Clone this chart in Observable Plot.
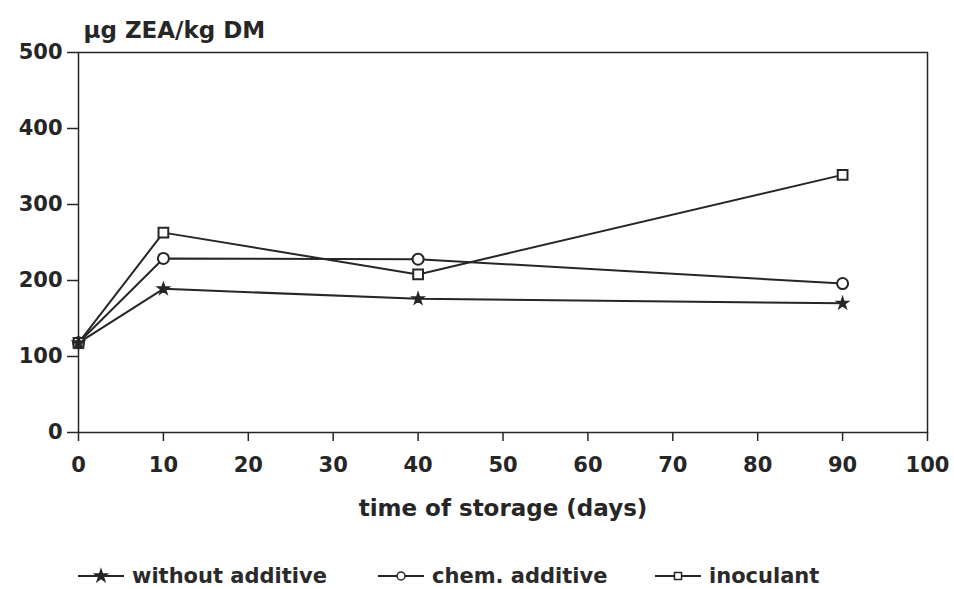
<!DOCTYPE html>
<html>
<head>
<meta charset="utf-8">
<script src="https://cdn.jsdelivr.net/npm/d3@7"></script>
<script src="https://cdn.jsdelivr.net/npm/@observablehq/plot@0.6"></script>
<style>
  html, body { margin: 0; padding: 0; background: #fff; overflow: hidden; }
  #chart { width: 954px; height: 535px; }
  #legend { position: relative; height: 50px; font-family: "DejaVu Sans", sans-serif; font-weight: bold; font-size: 21px; line-height: 24px; color: #2a2a2a; }
  .item { position: absolute; top: 29px; display: flex; align-items: center; }
  .item svg { margin-right: 8px; }
</style>
</head>
<body>
<div id="chart"></div>
<div id="legend"></div>
<script>
const days = [0, 10, 40, 90];
const seriesNames = ["without additive", "chem. additive", "inoculant"];
const withoutAdditive = [118, 189, 176, 170];
const chemAdditive = [118, 229, 228, 196];
const inoculant = [118, 263, 208, 339];
const xTicks = [0, 10, 20, 30, 40, 50, 60, 70, 80, 90, 100];
const yTicks = [0, 100, 200, 300, 400, 500];
const yTitle = "µg ZEA/kg DM";
const xTitle = "time of storage (days)";

const ink = "#262626";
const valuesBySeries = [withoutAdditive, chemAdditive, inoculant];
const data = [];
seriesNames.forEach((s, i) => days.forEach((d, j) => data.push({series: s, day: d, value: valuesBySeries[i][j]})));
const symbols = ["star", "circle", "square"];
const fills = {"without additive": ink, "chem. additive": "white", "inoculant": "white"};

const chart = Plot.plot({
  width: 954,
  height: 535,
  marginLeft: 78,
  marginRight: 27,
  marginTop: 52,
  marginBottom: 103,
  style: {fontFamily: "DejaVu Sans, sans-serif", fontWeight: "bold", color: ink, background: "white"},
  x: {domain: [0, 100]},
  y: {domain: [0, 500]},
  symbol: {domain: seriesNames, range: symbols},
  marks: [
    Plot.frame({stroke: ink, strokeWidth: 1.5}),
    Plot.axisX({ticks: xTicks, tickSize: 9, tickPadding: 16, fontSize: 21, fontWeight: "bold", label: null, stroke: ink, strokeWidth: 1.5}),
    Plot.axisY({ticks: yTicks, tickSize: 11, tickPadding: 5, fontSize: 21, fontWeight: "bold", label: null, stroke: ink, strokeWidth: 1.5}),
    Plot.text([yTitle], {frameAnchor: "top-left", dx: 5, dy: -22, lineAnchor: "middle", textAnchor: "start", fontSize: 23, fontWeight: "bold", fill: ink}),
    Plot.text([xTitle], {frameAnchor: "bottom", dy: 76, lineAnchor: "middle", fontSize: 23, fontWeight: "bold", fill: ink}),
    Plot.line(data, {x: "day", y: "value", z: "series", stroke: ink, strokeWidth: 2}),
    Plot.dot(data, {filter: d => d.series !== "without additive", x: "day", y: "value", symbol: "series", r: 5.5, stroke: ink, strokeWidth: 2, fill: d => fills[d.series]}),
    Plot.dot(data, {filter: d => d.series === "without additive", x: "day", y: "value", symbol: "series", r: 3.6, stroke: ink, strokeWidth: 1.5, fill: d => fills[d.series]})
  ]
});
document.getElementById("chart").appendChild(chart);

// Legend built from the same series names and symbols
const legend = document.getElementById("legend");
const lefts = [78, 378, 655];
seriesNames.forEach((s, i) => {
  const item = document.createElement("div");
  item.className = "item";
  item.style.left = lefts[i] + "px";
  const svg = d3.create("svg").attr("width", 46).attr("height", 20);
  svg.append("line").attr("x1", 0).attr("x2", 46).attr("y1", 10).attr("y2", 10).attr("stroke", ink).attr("stroke-width", 2);
  const symType = [d3.symbolStar, d3.symbolCircle, d3.symbolSquare][i];
  svg.append("path").attr("transform", "translate(23,10)")
    .attr("d", d3.symbol(symType, i === 0 ? 45 : 50)())
    .attr("fill", fills[s]).attr("stroke", ink).attr("stroke-width", 1.5);
  item.appendChild(svg.node());
  const span = document.createElement("span");
  span.textContent = s;
  item.appendChild(span);
  legend.appendChild(item);
});
</script>
</body>
</html>
